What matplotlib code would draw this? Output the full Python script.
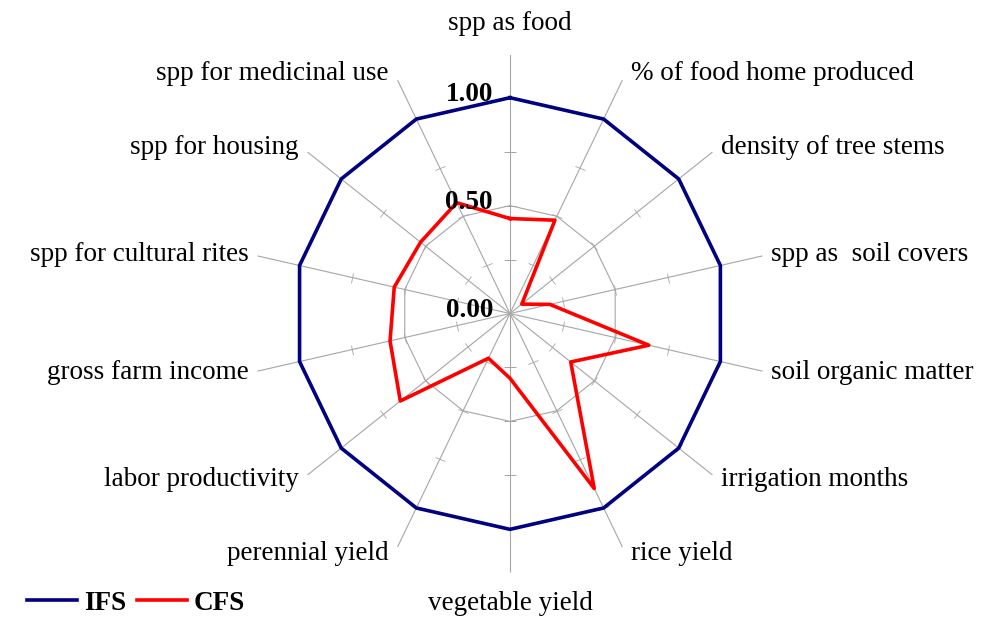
import numpy as np
import matplotlib
matplotlib.use("Agg")
import matplotlib.pyplot as plt
from matplotlib.markers import MarkerStyle
from matplotlib.transforms import Affine2D

# data
categories = ["spp as food", "% of food home produced", "density of tree stems",
              "spp as  soil covers", "soil organic matter", "irrigation months",
              "rice yield", "vegetable yield", "perennial yield", "labor productivity",
              "gross farm income", "spp for cultural rites", "spp for housing",
              "spp for medicinal use"]
ifs = [1.0] * 14
cfs = [0.44, 0.48, 0.07, 0.19, 0.66, 0.36, 0.90, 0.30, 0.23, 0.65, 0.57, 0.55, 0.53, 0.57]
tick_vals = [0.0, 0.5, 1.0]
tick_text = ["0.00", "0.50", "1.00"]

plt.rcParams['font.family'] = ['Liberation Serif', 'DejaVu Serif']
FS = 19.5
GRAY = '#a6a6a6'
RMAX = 1.2

fig = plt.figure(figsize=(9.94, 6.19), dpi=100)
ax = fig.add_axes([0.2525, 0.0751, 0.5211, 0.8368], projection='polar')
ax.set_theta_zero_location('N')
ax.set_theta_direction(-1)
ax.set_ylim(0, RMAX)
ax.axis('off')

n = len(categories)
th = np.arange(n) * 2 * np.pi / n
th_c = np.append(th, th[0])

# spokes, the 0.5 ring and the small tick marks
for i in range(n):
    ax.plot([th[i], th[i]], [0, RMAX], color=GRAY, lw=0.8, zorder=1)
    deg = np.degrees(th[i])
    mk = MarkerStyle('_', transform=Affine2D().rotate_deg(-deg))
    ax.plot([th[i]] * 4, [0.25, 0.5, 0.75, 1.0], ls='none', marker=mk,
            ms=8, mew=0.6, color=GRAY, zorder=1, snap=False)
ax.plot(th_c, [0.5] * (n + 1), color=GRAY, lw=0.8, zorder=1)

l1, = ax.plot(th_c, ifs + ifs[:1], color='#000080', lw=2.6, label='IFS', zorder=3)
l2, = ax.plot(th_c, cfs + cfs[:1], color='#ff0000', lw=2.6, label='CFS', zorder=4)

# category labels outside the spokes
for i in range(n):
    s = np.sin(th[i])
    c = np.cos(th[i])
    if abs(s) < 0.01:
        ha = 'center'
        dx = 0
        dy = 31 if c > 0 else -31
    else:
        ha = 'left' if s > 0 else 'right'
        dx = 9 if s > 0 else -9
        dy = 7.5 * c
    ax.annotate(categories[i], xy=(th[i], RMAX), xytext=(dx, dy),
                textcoords='offset pixels', ha=ha, va='center', fontsize=FS,
                annotation_clip=False)

# radial value labels
for v, t in zip(tick_vals, tick_text):
    ax.annotate(t, xy=(0, v), xytext=(-17, 3), textcoords='offset pixels',
                ha='right', va='center', fontsize=FS, fontweight='bold', zorder=5)

fig.legend(handles=[l1, l2], loc='center left', bbox_to_anchor=(27 / 994, 1 - 603 / 619),
           ncol=2, frameon=False, prop={'weight': 'bold', 'size': FS},
           handlelength=1.85, handletextpad=0.25, columnspacing=0.4, borderpad=0,
           borderaxespad=0)

fig.savefig('out.png', dpi=100)
